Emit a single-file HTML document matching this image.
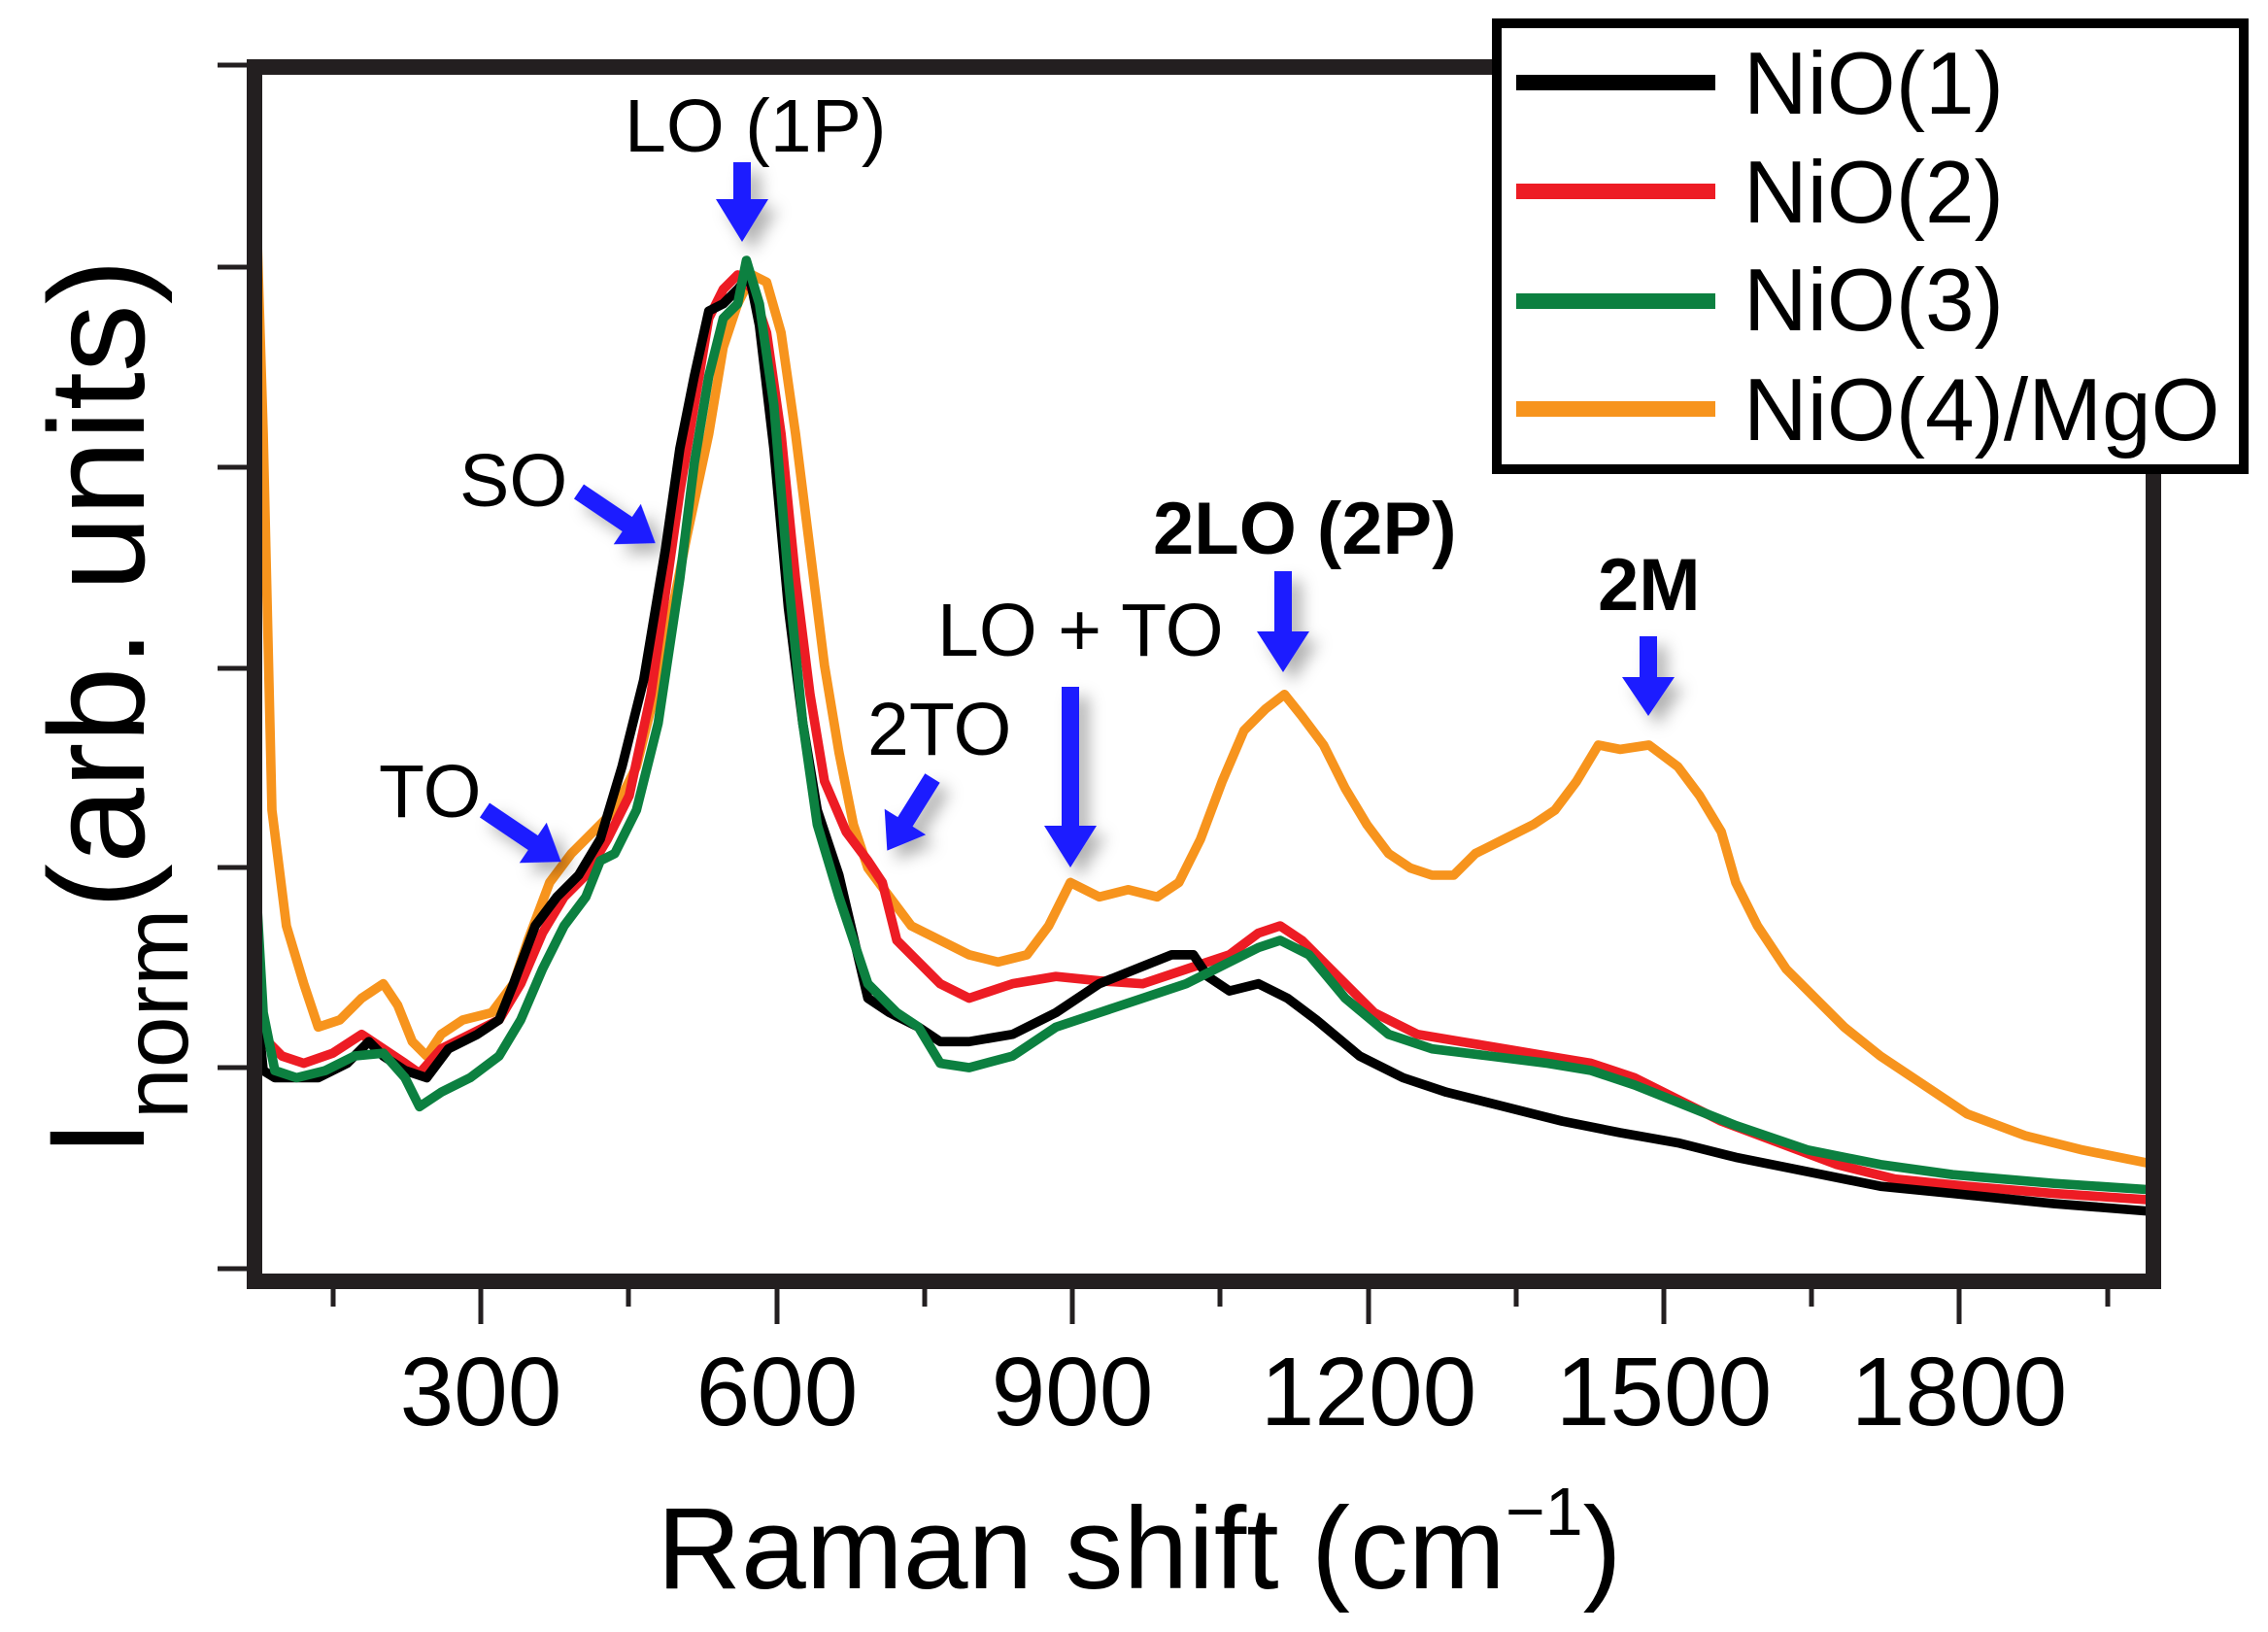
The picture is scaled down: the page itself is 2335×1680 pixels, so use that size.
<!DOCTYPE html>
<html><head><meta charset="utf-8"><style>
html,body{margin:0;padding:0;background:#fff;}
svg{display:block;}
text{font-family:"Liberation Sans",Arial,sans-serif;fill:#000;}
</style></head><body>
<svg width="2335" height="1680" viewBox="0 0 2335 1680" xmlns="http://www.w3.org/2000/svg">
<defs>
<clipPath id="pc"><rect x="270" y="77" width="1939" height="1234"/></clipPath>
<filter id="sh" x="-50%" y="-50%" width="200%" height="200%"><feDropShadow dx="10" dy="10" stdDeviation="8" flood-color="#000" flood-opacity="0.3"/></filter>
</defs>
<g clip-path="url(#pc)">
<g transform="scale(1.4892)" fill="none" stroke-width="6.5" stroke-linejoin="round" stroke-linecap="round">
<polyline stroke="#f7941d" points="178,170 182,300 188,560 198,640 210,680 220,710 235,705 250,690 265,680 275,695 285,720 295,730 305,715 320,705 340,700 355,680 365,650 380,610 395,590 410,575 425,560 440,530 455,470 465,420 475,370 490,300 500,240 510,210 520,190 530,195 540,230 550,300 560,380 570,460 580,520 590,570 600,600 615,620 630,640 650,650 670,660 690,665 710,660 725,640 740,610 760,620 780,615 800,620 815,610 830,580 845,540 860,505 875,490 888,480 900,495 915,515 930,545 945,570 960,590 975,600 990,605 1005,605 1020,590 1040,580 1060,570 1075,560 1090,540 1105,515 1120,518 1140,515 1160,530 1175,550 1190,575 1200,610 1215,640 1235,670 1255,690 1275,710 1300,730 1330,750 1360,770 1400,785 1440,795 1495,806"/>
<polyline stroke="#ed1c24" points="180,690 185,720 195,730 210,735 230,728 250,715 265,725 280,735 290,742 305,725 325,715 345,705 360,680 375,645 390,620 405,605 420,580 435,550 450,480 460,410 470,340 480,280 490,220 500,200 510,190 520,200 530,230 540,300 550,400 560,480 570,540 585,575 600,595 610,610 620,650 635,665 650,680 670,690 700,680 730,675 760,678 790,680 820,670 850,660 870,645 885,640 900,650 920,670 950,700 980,715 1010,720 1040,725 1070,730 1100,735 1130,745 1160,760 1190,775 1230,790 1270,805 1310,815 1360,820 1420,825 1495,830"/>
<polyline stroke="#000" points="178,700 182,740 190,745 205,745 220,745 240,735 255,720 265,730 280,740 295,745 310,725 330,715 345,705 355,680 370,640 385,620 400,605 415,580 430,530 445,470 460,380 470,310 480,260 490,215 500,210 510,200 518,190 525,225 535,310 545,420 555,500 565,560 580,605 600,690 615,700 635,710 650,720 670,720 700,715 730,700 760,680 790,668 810,660 825,660 835,675 850,685 870,680 890,690 910,705 940,730 970,745 1000,755 1040,765 1080,775 1120,783 1160,790 1200,800 1250,810 1300,820 1350,825 1420,832 1495,838"/>
<polyline stroke="#0c8040" points="178,630 182,700 190,740 205,745 225,740 245,730 265,728 280,745 290,765 305,755 325,745 345,730 360,705 375,670 390,640 405,620 415,595 425,590 440,560 455,500 470,400 480,320 490,260 500,220 510,210 516,180 525,210 535,280 545,400 555,500 565,570 580,620 600,680 620,700 635,710 650,735 670,738 700,730 730,710 760,700 790,690 820,680 850,665 870,655 885,650 905,660 930,690 960,715 990,725 1030,730 1070,735 1100,740 1130,750 1160,762 1200,778 1250,795 1300,805 1350,812 1420,818 1495,823"/>
</g>
</g>
<rect x="262" y="69" width="1955" height="1250" fill="none" stroke="#231f20" stroke-width="16"/>
<g stroke="#231f20" stroke-width="5">
<line x1="224" y1="67" x2="256" y2="67"/><line x1="224" y1="275" x2="256" y2="275"/><line x1="224" y1="481" x2="256" y2="481"/><line x1="224" y1="688" x2="256" y2="688"/><line x1="224" y1="893" x2="256" y2="893"/><line x1="224" y1="1099" x2="256" y2="1099"/><line x1="224" y1="1306" x2="256" y2="1306"/>
<line x1="495" y1="1325" x2="495" y2="1363"/><line x1="800" y1="1325" x2="800" y2="1363"/><line x1="1104" y1="1325" x2="1104" y2="1363"/><line x1="1409" y1="1325" x2="1409" y2="1363"/><line x1="1713" y1="1325" x2="1713" y2="1363"/><line x1="2017" y1="1325" x2="2017" y2="1363"/>
<line x1="343" y1="1325" x2="343" y2="1345"/><line x1="647" y1="1325" x2="647" y2="1345"/><line x1="952" y1="1325" x2="952" y2="1345"/><line x1="1256" y1="1325" x2="1256" y2="1345"/><line x1="1561" y1="1325" x2="1561" y2="1345"/><line x1="1865" y1="1325" x2="1865" y2="1345"/><line x1="2170" y1="1325" x2="2170" y2="1345"/>
</g>
<g font-size="100" text-anchor="middle">
<text x="495" y="1467">300</text><text x="800" y="1467">600</text><text x="1104" y="1467">900</text><text x="1409" y="1467">1200</text><text x="1713" y="1467">1500</text><text x="2017" y="1467">1800</text>
</g>
<text x="1173" y="1635" font-size="120" text-anchor="middle">Raman shift (cm<tspan font-size="70" dy="-55">−1</tspan><tspan dy="55">)</tspan></text>
<text transform="translate(148,1191) rotate(-90)" font-size="140">I<tspan font-size="95" dy="45">norm</tspan><tspan dy="-45">(arb. units)</tspan></text>
<rect x="1541" y="24" width="769" height="459" fill="#fff" stroke="#000" stroke-width="10"/>
<g stroke-width="16">
<line x1="1561" y1="85" x2="1766" y2="85" stroke="#000"/>
<line x1="1561" y1="197" x2="1766" y2="197" stroke="#ed1c24"/>
<line x1="1561" y1="310" x2="1766" y2="310" stroke="#0c8040"/>
<line x1="1561" y1="421" x2="1766" y2="421" stroke="#f7941d"/>
</g>
<g font-size="91">
<text x="1795" y="117">NiO(1)</text><text x="1795" y="229">NiO(2)</text><text x="1795" y="340">NiO(3)</text><text x="1795" y="453">NiO(4)/MgO</text>
</g>
<g font-size="77">
<text x="643" y="156">LO (1P)</text>
<text x="473" y="521">SO</text>
<text x="390" y="841">TO</text>
<text x="893" y="777">2TO</text>
<text x="965" y="675">LO + TO</text>
<text x="1187" y="570" font-weight="bold" font-size="76">2LO (2P)</text>
<text x="1645" y="628" font-weight="bold" font-size="76">2M</text>
</g>
<g fill="#1a1aff" filter="url(#sh)">
<polygon points="755,167 773,167 773,205 791,205 764,249 737,205 755,205"/>
<polygon points="1093,707 1111,707 1111,850 1129,850 1102,893 1075,850 1093,850"/>
<polygon points="1312,588 1330,588 1330,650 1348,650 1321,692 1294,650 1312,650"/>
<polygon points="1688,655 1706,655 1706,697 1724,697 1697,737 1670,697 1688,697"/>
<g transform="translate(596,506) rotate(34)"><polygon points="0,-9 60,-9 60,-25 95,0 60,25 60,9 0,9"/></g>
<g transform="translate(499,834) rotate(34)"><polygon points="0,-9 60,-9 60,-25 95,0 60,25 60,9 0,9"/></g>
<g transform="translate(960,801) rotate(122)"><polygon points="0,-9 53,-9 53,-25 88,0 53,25 53,9 0,9"/></g>
</g>
</svg>
</body></html>
